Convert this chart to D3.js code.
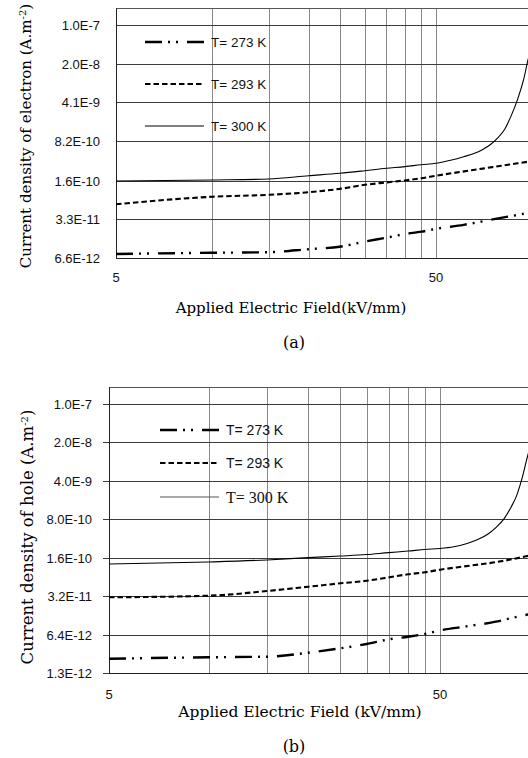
<!DOCTYPE html>
<html>
<head>
<meta charset="utf-8">
<script src="https://cdn.jsdelivr.net/npm/d3@7/dist/d3.min.js"></script>
<style>
body { margin: 0; background: #fff; }
svg { display: block; }
</style>
</head>
<body>
<svg id="chart" width="528" height="758"></svg>
<script>
// (a) electron current density
var fieldA273 = [5, 10, 15, 20, 25, 30, 35, 40, 45, 50, 61, 76, 97, 100];
var jA273 = [7.8e-12, 8.2e-12, 8.4e-12, 9.5e-12, 1.05e-11, 1.3e-11, 1.53e-11, 1.78e-11, 1.96e-11, 2.2e-11, 2.6e-11, 3.3e-11, 4.25e-11, 4.4e-11];
var fieldA293 = [5, 10, 15, 20, 25, 30, 35, 40, 45, 50, 60, 70, 80, 90, 100];
var jA293 = [6.1e-11, 8.3e-11, 9.0e-11, 1.0e-10, 1.15e-10, 1.36e-10, 1.5e-10, 1.63e-10, 1.78e-10, 1.98e-10, 2.33e-10, 2.66e-10, 2.99e-10, 3.31e-10, 3.63e-10];
var fieldA300 = [5, 10, 15, 20, 25, 30, 35, 40, 45, 50, 56, 61, 66, 70, 74, 78, 82, 86, 90, 94, 97, 100];
var jA300 = [1.59e-10, 1.66e-10, 1.73e-10, 1.98e-10, 2.19e-10, 2.44e-10, 2.69e-10, 2.88e-10, 3.12e-10, 3.31e-10, 3.8e-10, 4.35e-10, 5.0e-10, 5.85e-10, 7.2e-10, 9.5e-10, 1.35e-9, 2.4e-9, 4.7e-9, 1.07e-8, 2.4e-8, 4.4e-8];

// (b) hole current density
var fieldB273 = [5, 10, 15, 20, 25, 30, 35, 40, 45, 50, 59, 73, 88, 100];
var jB273 = [2.36e-12, 2.51e-12, 2.57e-12, 3.04e-12, 3.65e-12, 4.37e-12, 5.32e-12, 5.93e-12, 6.64e-12, 7.7e-12, 9.0e-12, 1.1e-11, 1.42e-11, 1.65e-11];
var fieldB293 = [5, 10, 15, 20, 25, 30, 35, 40, 45, 50, 59, 73, 81, 92, 100];
var jB293 = [3.08e-11, 3.29e-11, 4.01e-11, 4.8e-11, 5.53e-11, 6.17e-11, 7.1e-11, 8.07e-11, 8.77e-11, 9.78e-11, 1.12e-10, 1.33e-10, 1.48e-10, 1.74e-10, 1.95e-10];
var fieldB300 = [5, 10, 15, 20, 25, 30, 35, 40, 45, 50, 55, 60, 65, 70, 74, 78, 82, 85, 88, 92, 96, 100];
var jB300 = [1.24e-10, 1.35e-10, 1.47e-10, 1.62e-10, 1.73e-10, 1.84e-10, 2.0e-10, 2.13e-10, 2.28e-10, 2.37e-10, 2.55e-10, 2.9e-10, 3.45e-10, 4.4e-10, 5.8e-10, 8.2e-10, 1.35e-9, 2.1e-9, 4.0e-9, 1.15e-8, 2.8e-8, 6e-8];

var yTicksA = ["1.0E-7", "2.0E-8", "4.1E-9", "8.2E-10", "1.6E-10", "3.3E-11", "6.6E-12"];
var yTicksB = ["1.0E-7", "2.0E-8", "4.0E-9", "8.0E-10", "1.6E-10", "3.2E-11", "6.4E-12", "1.3E-12"];
var xLabels = [5, 50];
var xGrid = [10, 15, 20, 25, 30, 35, 40, 45, 50];
var legendNames = ["T= 273 K", "T= 293 K", "T= 300 K"];

var svg = d3.select("#chart");

var styles = [
    { width: 2.4, dash: "17,6,2,6,2,9" },
    { width: 2.1, dash: "5.5,3" },
    { width: 1.1, dash: null }
];

function zip(xs, ys) {
    return xs.map(function(d, i) { return [d, ys[i]]; });
}

function drawPanel(p) {
    var x = d3.scaleLog().domain([5, 100]).range([p.left, p.right]);
    var y = d3.scaleLog().domain([p.yMin, 2e-7]).range([p.bottom, p.top]);
    var g = svg.append("g");

    g.append("clipPath").attr("id", p.id + "clip")
        .append("rect")
        .attr("x", p.left).attr("y", p.top)
        .attr("width", 528 - p.left).attr("height", p.bottom - p.top);

    // vertical gridlines
    g.append("g").selectAll("line").data(xGrid).enter().append("line")
        .attr("x1", d => Math.round(x(d)) + 0.5)
        .attr("x2", d => Math.round(x(d)) + 0.5)
        .attr("y1", p.top).attr("y2", p.bottom)
        .attr("stroke", "#8a8a8a").attr("stroke-width", 1);

    // horizontal gridlines + ticks
    g.append("g").selectAll("line").data(p.yTicks).enter().append("line")
        .attr("x1", p.left - p.tick).attr("x2", 528)
        .attr("y1", d => Math.round(y(+d)) + 0.5)
        .attr("y2", d => Math.round(y(+d)) + 0.5)
        .attr("stroke", "#3c3c3c").attr("stroke-width", 1);

    // frame
    g.append("line")
        .attr("x1", p.left).attr("x2", 528)
        .attr("y1", Math.round(p.top) + 0.5).attr("y2", Math.round(p.top) + 0.5)
        .attr("stroke", "#555");
    g.append("line")
        .attr("x1", p.left).attr("x2", 528)
        .attr("y1", Math.round(p.bottom) + 0.5).attr("y2", Math.round(p.bottom) + 0.5)
        .attr("stroke", "#222");
    g.append("line")
        .attr("x1", Math.round(p.left) + 0.5).attr("x2", Math.round(p.left) + 0.5)
        .attr("y1", p.top).attr("y2", p.bottom)
        .attr("stroke", "#222");

    // tick labels
    g.append("g").selectAll("text").data(p.yTicks).enter().append("text")
        .attr("x", p.labelX)
        .attr("y", d => y(+d))
        .attr("dy", "0.36em")
        .style("text-anchor", "end")
        .style("font-family", "Liberation Sans, Arial, sans-serif")
        .style("font-size", "13px")
        .style("fill", "#111")
        .text(d => d);

    g.append("g").selectAll("text").data(xLabels).enter().append("text")
        .attr("x", d => x(d))
        .attr("y", p.xLabelY)
        .style("text-anchor", "middle")
        .style("font-family", "Liberation Sans, Arial, sans-serif")
        .style("font-size", "13px")
        .style("fill", "#111")
        .text(d => d);

    // curves
    var line = d3.line()
        .x(d => x(d[0]))
        .y(d => y(d[1]))
        .curve(d3.curveMonotoneX);

    var curves = g.append("g").attr("clip-path", "url(#" + p.id + "clip)");
    p.series.forEach(function(s, i) {
        curves.append("path")
            .datum(s)
            .attr("d", line)
            .attr("fill", "none")
            .attr("stroke", "#000")
            .attr("stroke-width", styles[i].width)
            .attr("stroke-dasharray", styles[i].dash);
    });

    // legend
    var leg = g.append("g");
    legendNames.forEach(function(name, i) {
        var ly = p.legendY[i];
        leg.append("line")
            .attr("x1", p.legendX).attr("x2", p.legendX + 59)
            .attr("y1", ly).attr("y2", ly)
            .attr("stroke", i == 2 ? p.solidLegendColor : "#000")
            .attr("stroke-width", i == 2 ? 1 : styles[i].width)
            .attr("stroke-dasharray", styles[i].dash);
        leg.append("text")
            .attr("x", p.legendX + 66)
            .attr("y", ly)
            .attr("dy", "0.36em")
            .style("font-family", p.legendFonts[i])
            .style("font-size", p.legendSizes[i])
            .style("fill", "#111")
            .text(name);
    });

    // axis titles
    g.append("text")
        .attr("x", p.xTitleX).attr("y", p.xTitleY)
        .style("text-anchor", "middle")
        .style("font-family", "DejaVu Serif, serif")
        .style("font-size", p.xTitleSize)
        .text(p.xTitle);

    var yt = g.append("text")
        .attr("transform", "translate(" + p.yTitleX + "," + p.yTitleY + ") rotate(-90)")
        .style("text-anchor", "middle")
        .style("font-family", "DejaVu Serif, serif")
        .style("font-size", p.yTitleSize);
    yt.append("tspan").text(p.yTitle + " (A.m");
    yt.append("tspan").attr("baseline-shift", "super").style("font-size", "10px").text("-2");
    yt.append("tspan").text(")");

    g.append("text")
        .attr("x", 294).attr("y", p.captionY)
        .style("text-anchor", "middle")
        .style("font-family", "DejaVu Serif, serif")
        .style("font-size", "16px")
        .text(p.caption);
}

drawPanel({
    id: "a",
    left: 116, right: 532.3, top: 8.4, bottom: 258,
    yMin: 6.6e-12, yTicks: yTicksA, tick: 0,
    labelX: 100, xLabelY: 282,
    series: [zip(fieldA273, jA273), zip(fieldA293, jA293), zip(fieldA300, jA300)],
    legendX: 145, legendY: [42, 84, 126],
    legendFonts: ["Liberation Sans, sans-serif", "Liberation Sans, sans-serif", "Liberation Sans, sans-serif"],
    legendSizes: ["13.5px", "13.5px", "13.5px"],
    solidLegendColor: "#000",
    xTitle: "Applied Electric Field(kV/mm)", xTitleX: 291, xTitleY: 313, xTitleSize: "15px",
    yTitle: "Current density of electron", yTitleX: 31, yTitleY: 136, yTitleSize: "15.1px",
    caption: "(a)", captionY: 348
});

drawPanel({
    id: "b",
    left: 109, right: 539.7, top: 387.4, bottom: 673,
    yMin: 1.3e-12, yTicks: yTicksB, tick: 6,
    labelX: 92, xLabelY: 699,
    series: [zip(fieldB273, jB273), zip(fieldB293, jB293), zip(fieldB300, jB300)],
    legendX: 160, legendY: [430, 463, 497],
    legendFonts: ["Liberation Sans, sans-serif", "Liberation Sans, sans-serif", "Liberation Serif, serif"],
    legendSizes: ["14px", "14px", "16px"],
    solidLegendColor: "#555",
    xTitle: "Applied Electric Field (kV/mm)", xTitleX: 300, xTitleY: 717, xTitleSize: "15.5px",
    yTitle: "Current density of hole", yTitleX: 33, yTitleY: 537, yTitleSize: "16.5px",
    caption: "(b)", captionY: 752
});
</script>
</body>
</html>
